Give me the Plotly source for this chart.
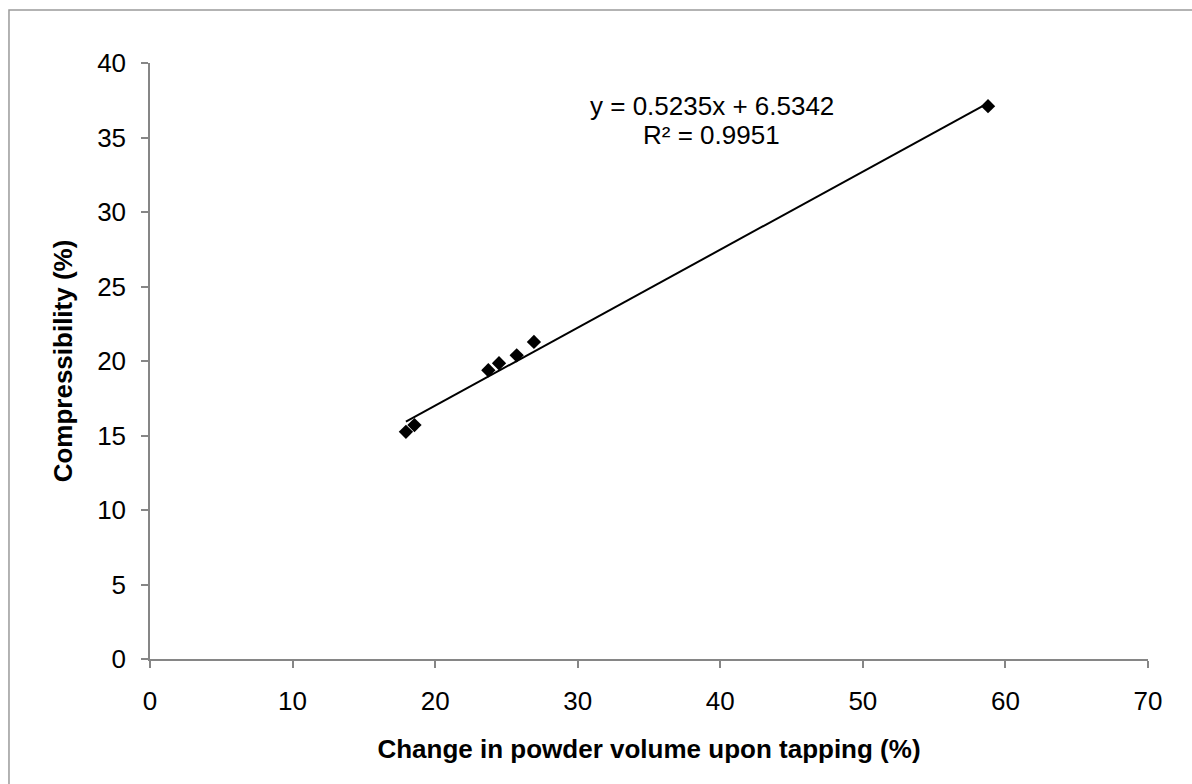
import plotly.graph_objects as go

# Data
volume_change = [17.95, 18.55, 23.73, 24.48, 25.72, 26.93, 58.78]   # x (%)
compressibility = [15.25, 15.7, 19.38, 19.85, 20.38, 21.28, 37.1]   # y (%)
slope = 0.5235
intercept = 6.5342
r_squared = 0.9951
x_ticks = [0, 10, 20, 30, 40, 50, 60, 70]
y_ticks = [0, 5, 10, 15, 20, 25, 30, 35, 40]

FONT = "Liberation Sans, Arial, sans-serif"
AXIS_COLOR = "#868686"
FS = 26

x_min, x_max = min(volume_change), max(volume_change)
trend_x = [x_min, x_max]
trend_y = [slope * v + intercept for v in trend_x]

fig = go.Figure()
fig.add_trace(go.Scatter(
    x=trend_x, y=trend_y, mode="lines",
    line=dict(color="black", width=2), showlegend=False, hoverinfo="skip"))
fig.add_trace(go.Scatter(
    x=volume_change, y=compressibility, mode="markers",
    marker=dict(symbol="diamond", size=11, color="black", line=dict(width=0)),
    showlegend=False))

fig.add_annotation(x=39.4, y=37.1, xref="x", yref="y",
                   text=f"y = {slope}x + {intercept}", showarrow=False,
                   font=dict(family=FONT, size=FS, color="black"))
fig.add_annotation(x=39.4, y=35.15, xref="x", yref="y",
                   text=f"R² = {r_squared}", showarrow=False,
                   font=dict(family=FONT, size=FS, color="black"))

# outer chart border (extends past the right/bottom edges)
fig.add_shape(type="rect", xref="paper", yref="paper",
              x0=-0.1413, y0=-0.25, x1=1.06, y1=1.0889,
              line=dict(color="#9a9a9a", width=1.5), fillcolor="rgba(0,0,0,0)", layer="below")

fig.update_xaxes(
    range=[0, 70], tickvals=x_ticks, showgrid=False, zeroline=False,
    showline=True, linecolor=AXIS_COLOR, linewidth=1.5,
    ticks="outside", ticklen=7, tickwidth=1.5, tickcolor=AXIS_COLOR,
    tickfont=dict(family=FONT, size=FS, color="black"), ticklabelstandoff=11,
    title=dict(text="<b>Change in powder volume upon tapping (%)</b>",
               font=dict(family=FONT, size=FS, color="black"), standoff=25),
    automargin=False)
fig.update_yaxes(
    range=[0, 40], tickvals=y_ticks, showgrid=False, zeroline=False,
    showline=True, linecolor=AXIS_COLOR, linewidth=1.5,
    ticks="outside", ticklen=7, tickwidth=1.5, tickcolor=AXIS_COLOR,
    tickfont=dict(family=FONT, size=FS, color="black"), ticklabelstandoff=10,
    title=dict(text="<b>Compressibility (%)</b>",
               font=dict(family=FONT, size=FS, color="black"), standoff=17),
    automargin=False)

fig.update_layout(
    width=1192, height=784,
    margin=dict(l=150, r=44, t=63, b=125),
    paper_bgcolor="white", plot_bgcolor="white",
    font=dict(family=FONT))

fig.write_html("out.html")
